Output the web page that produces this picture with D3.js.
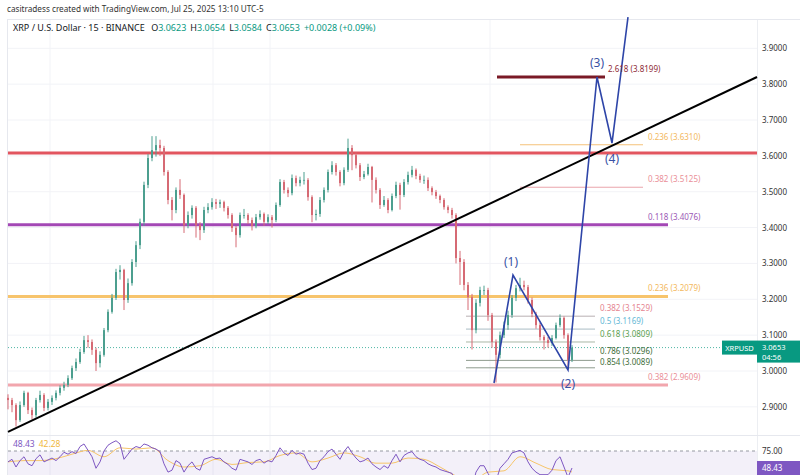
<!DOCTYPE html>
<html>
<head>
<meta charset="utf-8">
<script src="https://cdn.jsdelivr.net/npm/d3@7"></script>
<style>
  body { margin: 0; background: #fff; }
  svg { display: block; font-family: "Noto Sans", sans-serif; }
</style>
</head>
<body>
<div id="chart"></div>
<script>
// Candles (15 min XRP/USD), one entry per candle, open = previous close
const firstOpen = 2.925;
const closes = [
  2.919, 2.905, 2.863, 2.905, 2.939, 2.891, 2.877, 2.919, 2.933, 2.897,
  2.914, 2.925, 2.939, 2.953, 2.961, 2.980, 3.008, 3.025, 3.053, 3.086,
  3.081, 3.059, 3.022, 3.045, 3.114, 3.165, 3.204, 3.276, 3.282, 3.198,
  3.245, 3.304, 3.351, 3.416, 3.519, 3.594, 3.616, 3.630, 3.622, 3.555,
  3.477, 3.449, 3.505, 3.491, 3.407, 3.435, 3.455, 3.407, 3.393, 3.449,
  3.457, 3.471, 3.466, 3.471, 3.455, 3.435, 3.399, 3.379, 3.435, 3.435,
  3.421, 3.404, 3.429, 3.438, 3.416, 3.429, 3.421, 3.463, 3.527, 3.505,
  3.496, 3.538, 3.524, 3.533, 3.533, 3.485, 3.435, 3.438, 3.477, 3.505,
  3.555, 3.574, 3.555, 3.524, 3.561, 3.622, 3.602, 3.574, 3.541, 3.549,
  3.569, 3.533, 3.505, 3.463, 3.477, 3.449, 3.488, 3.519, 3.491, 3.527,
  3.547, 3.561, 3.544, 3.533, 3.533, 3.510, 3.499, 3.488, 3.477, 3.457,
  3.449, 3.435, 3.315, 3.304, 3.240, 3.206, 3.114, 3.190, 3.226, 3.226,
  3.156, 3.081, 3.045, 3.100, 3.128, 3.156, 3.204, 3.231, 3.240, 3.234,
  3.198, 3.159, 3.128, 3.095, 3.086, 3.078, 3.092, 3.128, 3.148, 3.100,
  3.031, 3.0653
];
const highs = [
  2.935, 2.925, 2.910, 2.915, 2.945, 2.942, 2.898, 2.925, 2.945, 2.938,
  2.922, 2.932, 2.946, 2.960, 2.970, 2.988, 3.015, 3.035, 3.062, 3.098,
  3.100, 3.088, 3.065, 3.055, 3.120, 3.172, 3.215, 3.285, 3.295, 3.285,
  3.258, 3.312, 3.362, 3.425, 3.528, 3.605, 3.655, 3.655, 3.645, 3.628,
  3.560, 3.485, 3.512, 3.535, 3.495, 3.445, 3.462, 3.460, 3.415, 3.458,
  3.468, 3.482, 3.480, 3.478, 3.475, 3.460, 3.440, 3.405, 3.442, 3.452,
  3.440, 3.428, 3.438, 3.448, 3.442, 3.437, 3.435, 3.470, 3.535, 3.533,
  3.512, 3.548, 3.545, 3.542, 3.555, 3.538, 3.490, 3.450, 3.485, 3.512,
  3.562, 3.585, 3.580, 3.560, 3.568, 3.648, 3.630, 3.610, 3.580, 3.558,
  3.578, 3.572, 3.540, 3.510, 3.488, 3.482, 3.495, 3.528, 3.525, 3.535,
  3.556, 3.572, 3.565, 3.550, 3.545, 3.540, 3.515, 3.505, 3.492, 3.482,
  3.462, 3.455, 3.440, 3.335, 3.312, 3.248, 3.215, 3.200, 3.235, 3.238,
  3.232, 3.162, 3.088, 3.110, 3.138, 3.168, 3.212, 3.240, 3.260, 3.252,
  3.240, 3.205, 3.165, 3.135, 3.100, 3.095, 3.100, 3.135, 3.158, 3.152,
  3.105, 3.072
];
const lows = [
  2.893, 2.885, 2.845, 2.858, 2.900, 2.880, 2.865, 2.870, 2.912, 2.888,
  2.890, 2.905, 2.918, 2.932, 2.945, 2.955, 2.975, 3.000, 3.020, 3.048,
  3.065, 3.045, 3.000, 3.010, 3.040, 3.108, 3.160, 3.198, 3.255, 3.170,
  3.190, 3.238, 3.290, 3.340, 3.405, 3.510, 3.585, 3.598, 3.600, 3.545,
  3.465, 3.420, 3.440, 3.480, 3.385, 3.398, 3.425, 3.372, 3.365, 3.385,
  3.440, 3.450, 3.452, 3.455, 3.445, 3.425, 3.388, 3.345, 3.372, 3.425,
  3.410, 3.392, 3.398, 3.422, 3.405, 3.410, 3.400, 3.415, 3.458, 3.495,
  3.485, 3.490, 3.515, 3.515, 3.520, 3.475, 3.415, 3.420, 3.430, 3.470,
  3.498, 3.548, 3.545, 3.515, 3.518, 3.555, 3.560, 3.565, 3.530, 3.535,
  3.545, 3.470, 3.495, 3.452, 3.458, 3.440, 3.445, 3.482, 3.450, 3.485,
  3.520, 3.540, 3.535, 3.525, 3.522, 3.502, 3.490, 3.480, 3.468, 3.450,
  3.440, 3.425, 3.300, 3.240, 3.225, 3.170, 3.060, 3.105, 3.180, 3.212,
  3.140, 3.065, 2.968, 3.035, 3.092, 3.115, 3.148, 3.195, 3.222, 3.225,
  3.188, 3.150, 3.118, 3.085, 3.060, 3.065, 3.070, 3.088, 3.122, 3.090,
  3.005, 3.025
];

// RSI pane
const rsi = [
  58, 62, 50, 60, 66, 55, 52, 63, 69, 58,
  61, 64, 60, 66, 73, 70, 74, 71, 82, 86,
  76, 66, 48, 58, 75, 84, 88, 91, 86, 62,
  70, 78, 82, 80, 86, 84, 80, 78, 74, 55,
  42, 45, 60, 56, 42, 52, 58, 48, 45, 62,
  64, 66, 63, 64, 58, 54, 48, 45, 62, 60,
  58, 54, 60, 62, 56, 60, 58, 68, 80, 72,
  68, 76, 70, 72, 70, 56, 46, 48, 60, 66,
  74, 78, 70, 62, 74, 82, 72, 64, 58, 60,
  64, 55, 50, 46, 52, 48, 60, 70, 58, 68,
  72, 74, 66, 62, 60, 55, 52, 50, 46, 44,
  42, 40, 22, 24, 20, 22, 18, 42, 52, 52,
  40, 30, 28, 48, 55, 62, 72, 74, 76, 72,
  58, 48, 42, 38, 38, 38, 45, 60, 66, 50,
  34, 48.43
];
const rsiMaIdx = [0, 4, 8, 12, 16, 20, 24, 28, 32, 36, 40, 44, 48, 52, 56, 60, 64, 68,
  72, 76, 80, 84, 88, 92, 96, 100, 104, 108, 112, 116, 120, 124, 128, 132, 136, 140, 141];
const rsiMa = [58, 60, 60, 63, 70, 76, 66, 80, 78, 80, 60, 50, 52, 62, 54, 57, 58, 68,
  72, 58, 64, 72, 66, 56, 56, 64, 62, 50, 36, 28, 42, 44, 66, 56, 46, 44, 42.28];

// Axis ticks
const priceTicks = [2.9, 3.0, 3.1, 3.2, 3.3, 3.4, 3.5, 3.6, 3.7, 3.8, 3.9];

// Drawings: trend line, Elliott wave, levels
const trendIdx = [0, 187.25];
const trendPrice = [2.830, 3.8199];
const waveIdx = [121.5, 126.25, 140, 147.25, 151, 155];
const wavePrice = [2.9665, 3.2677, 3.0028, 3.82, 3.6358, 3.987];
const waveLabels = ["(1)", "(2)", "(3)", "(4)"];

const zonePrices = [3.608, 3.4076, 3.2079, 2.9609];
const zoneEnd = [187.25, 165, 165, 165];
const fibUpPrices = [3.631, 3.5125];
const fibUpLabels = ["0.236 (3.6310)", "0.382 (3.5125)"];
const fibLowPrices = [3.1529, 3.1169, 3.0809, 3.0296, 3.0089];
const fibLowLabels = ["0.382 (3.1529)", "0.5 (3.1169)", "0.618 (3.0809)", "0.786 (3.0296)", "0.854 (3.0089)"];
const zoneLabels = ["0.118 (3.4076)", "0.236 (3.2079)", "0.382 (2.9609)"];
const targetPrice = 3.8199;
const targetLabel = "2.618 (3.8199)";
const lastPrice = 3.0653;

const W = 800, H = 475;
const svg = d3.select("#chart").append("svg").attr("width", W).attr("height", H);

const x = d3.scaleLinear().domain([0, 141]).range([8, 572]);
const y = d3.scaleLinear().domain([3.0, 3.9]).range([371, 48.3]);
const yR = d3.scaleLinear().domain([0, 100]).range([499, 435]);

// Header
svg.append("text").attr("x", 7).attr("y", 12)
  .attr("font-size", 8.2).attr("fill", "#333")
  .text("casitradess created with TradingView.com, Jul 25, 2025 13:10 UTC-5");

// Pane frame
svg.append("rect").attr("x", 7.5).attr("y", 19.5).attr("width", 800).attr("height", 470)
  .attr("fill", "none").attr("stroke", "#e6e8ee");

// Grid
svg.append("g").selectAll("line").data(priceTicks).join("line")
  .attr("x1", 8).attr("x2", 757)
  .attr("y1", d => y(d)).attr("y2", d => y(d))
  .attr("stroke", "#f2f3f7");
svg.append("g").selectAll("line").data([10.5, 51.25, 65.5, 120.5]).join("line")
  .attr("x1", d => x(d)).attr("x2", d => x(d))
  .attr("y1", 20).attr("y2", 475)
  .attr("stroke", "#f2f3f7");
svg.append("line").attr("x1", 757.5).attr("x2", 757.5).attr("y1", 20).attr("y2", 475)
  .attr("stroke", "#eceef2");
svg.append("line").attr("x1", 8).attr("x2", 800).attr("y1", 435.5).attr("y2", 435.5)
  .attr("stroke", "#e6e8ee");

// Right price axis
const axis = svg.append("g").attr("transform", "translate(757,0)")
  .call(d3.axisRight(y).tickValues(priceTicks).tickSize(0).tickPadding(5).tickFormat(d3.format(".4f")));
axis.select(".domain").remove();
axis.selectAll("text").attr("font-size", 8).attr("fill", "#333").attr("font-family", "Noto Sans");

// Horizontal zones
const zoneColor = ["#e2555f", "#a348b5", "#f7c46c", "#f2a6ad"];
svg.append("g").selectAll("line").data(zonePrices).join("line")
  .attr("x1", x(0)).attr("x2", (d, i) => x(zoneEnd[i]))
  .attr("y1", d => y(d)).attr("y2", d => y(d))
  .attr("stroke", (d, i) => zoneColor[i]).attr("stroke-width", 3);

// Current price dotted line
svg.append("line").attr("x1", 8).attr("x2", 757)
  .attr("y1", y(lastPrice)).attr("y2", y(lastPrice))
  .attr("stroke", "#089981").attr("stroke-dasharray", "1,2").attr("opacity", 0.7);

// Fib lines
const fibUpColor = ["#f5c27a", "#eaa5ab"];
svg.append("g").selectAll("line").data(fibUpPrices).join("line")
  .attr("x1", x(128)).attr("x2", x(158.75))
  .attr("y1", d => y(d)).attr("y2", d => y(d))
  .attr("stroke", (d, i) => fibUpColor[i]).attr("stroke-width", 1);
const fibLowLine = ["#b8b0b2", "#a9bcc4", "#a9b7a6", "#8e9a8c", "#8e9a8c"];
const fibLowText = ["#e5858f", "#63b8d6", "#5b9f4f", "#3e6e3a", "#3e6e3a"];
svg.append("g").selectAll("line").data(fibLowPrices).join("line")
  .attr("x1", x(114.5)).attr("x2", x(146.75))
  .attr("y1", d => y(d)).attr("y2", d => y(d))
  .attr("stroke", (d, i) => fibLowLine[i]).attr("stroke-width", 1);

// Target line
svg.append("line").attr("x1", x(122.25)).attr("x2", x(149.25))
  .attr("y1", y(targetPrice)).attr("y2", y(targetPrice))
  .attr("stroke", "#7a1a26").attr("stroke-width", 3);

// Candles
const up = "#4c9f8f", down = "#d66a74";
const candles = closes.map((c, i) => ({
  i, o: i === 0 ? firstOpen : closes[i - 1], h: highs[i], l: lows[i], c
}));
const cg = svg.append("g");
cg.selectAll("line").data(candles).join("line")
  .attr("x1", d => x(d.i)).attr("x2", d => x(d.i))
  .attr("y1", d => y(d.h)).attr("y2", d => y(d.l))
  .attr("stroke", d => d.c >= d.o ? up : down).attr("stroke-width", 1);
cg.selectAll("rect").data(candles).join("rect")
  .attr("x", d => x(d.i) - 1).attr("width", 2)
  .attr("y", d => y(Math.max(d.o, d.c)))
  .attr("height", d => Math.max(0.8, Math.abs(y(d.o) - y(d.c))))
  .attr("fill", d => d.c >= d.o ? up : down);

// Trend line
svg.append("line")
  .attr("x1", x(trendIdx[0])).attr("y1", y(trendPrice[0]))
  .attr("x2", x(trendIdx[1])).attr("y2", y(trendPrice[1]))
  .attr("stroke", "#000").attr("stroke-width", 2);

// Elliott wave
const wave = waveIdx.map((d, i) => [x(d), y(wavePrice[i])]);
svg.append("path").attr("d", d3.line()(wave))
  .attr("fill", "none").attr("stroke", "#2e45a8").attr("stroke-width", 1.6);
const labelDy = [-9, 18, -10, 20];
svg.append("g").selectAll("text").data(waveLabels).join("text")
  .attr("x", (d, i) => wave[i + 1][0] - (i === 0 ? 2 : 0))
  .attr("y", (d, i) => wave[i + 1][1] + labelDy[i])
  .attr("text-anchor", "middle").attr("font-size", 12).attr("fill", "#3a52a5")
  .text(d => d);

// Level labels
const lbl = svg.append("g").attr("font-size", 8);
lbl.append("text").attr("x", x(150)).attr("y", y(targetPrice) - 5)
  .attr("fill", "#8e2a36").text(targetLabel);
lbl.selectAll(".fu").data(fibUpLabels).join("text").attr("class", "fu")
  .attr("x", x(160)).attr("y", (d, i) => y(fibUpPrices[i]) - 5)
  .attr("fill", (d, i) => ["#f3b960", "#ea8f98"][i]).text(d => d);
lbl.selectAll(".zl").data(zoneLabels).join("text").attr("class", "zl")
  .attr("x", x(160)).attr("y", (d, i) => y(zonePrices[i + 1]) - 5)
  .attr("fill", (d, i) => ["#9b59b6", "#f3b960", "#ea8f98"][i]).text(d => d);
const fibDy = [-5, -5, -5, -6, -3];
lbl.selectAll(".fl").data(fibLowLabels).join("text").attr("class", "fl")
  .attr("x", x(148)).attr("y", (d, i) => y(fibLowPrices[i]) + fibDy[i])
  .attr("fill", (d, i) => fibLowText[i]).text(d => d);

// Legend row
const leg = svg.append("text").attr("x", 13).attr("y", 31).attr("font-size", 9).attr("fill", "#131722");
leg.append("tspan").text("XRP / U.S. Dollar · 15 · BINANCE ");
[["O", "3.0623"], ["H", "3.0654"], ["L", "3.0584"], ["C", "3.0653"]].forEach(([k, v]) => {
  leg.append("tspan").attr("dx", 4).text(k);
  leg.append("tspan").attr("fill", "#089981").text(v);
});
leg.append("tspan").attr("dx", 4).attr("fill", "#089981").text("+0.0028 (+0.09%)");

// Last price tags
const yl = y(lastPrice);
svg.append("rect").attr("x", 722).attr("y", yl - 7).attr("width", 35).attr("height", 14).attr("fill", "#089981");
svg.append("text").attr("x", 739.5).attr("y", yl + 3).attr("text-anchor", "middle")
  .attr("font-size", 7.5).attr("fill", "#fff").text("XRPUSD");
svg.append("rect").attr("x", 757).attr("y", yl - 7).attr("width", 43).attr("height", 22).attr("fill", "#089981");
svg.append("text").attr("x", 762).attr("y", yl + 2).attr("font-size", 7.5).attr("fill", "#fff").text("3.0653");
svg.append("text").attr("x", 762).attr("y", yl + 12).attr("font-size", 7.5).attr("fill", "#fff").text("04:56");

// RSI pane
svg.append("clipPath").attr("id", "rsiClip").append("rect")
  .attr("x", 8).attr("y", 436).attr("width", 749).attr("height", 39);
const rp = svg.append("g").attr("clip-path", "url(#rsiClip)");
rp.append("rect").attr("x", 8).attr("width", 749).attr("y", yR(75)).attr("height", yR(25) - yR(75))
  .attr("fill", "#7e57c2").attr("opacity", 0.09);
rp.append("line").attr("x1", 8).attr("x2", 757).attr("y1", yR(75)).attr("y2", yR(75))
  .attr("stroke", "#9598a1").attr("stroke-dasharray", "3,3");
rp.append("path").attr("d", d3.line().x((d, i) => x(rsiMaIdx[i])).y(d => yR(d)).curve(d3.curveMonotoneX)(rsiMa))
  .attr("fill", "none").attr("stroke", "#f7c56a").attr("stroke-width", 1);
rp.append("path").attr("d", d3.line().x((d, i) => x(i)).y(d => yR(d))(rsi))
  .attr("fill", "none").attr("stroke", "#7e57c2").attr("stroke-width", 1);

const rl = svg.append("text").attr("x", 13).attr("y", 447).attr("font-size", 8.5);
rl.append("tspan").attr("fill", "#7e57c2").text("48.43");
rl.append("tspan").attr("dx", 4).attr("fill", "#f0b840").text("42.28");

svg.append("text").attr("x", 762).attr("y", yR(75) + 3).attr("font-size", 8).attr("fill", "#333").text("75.00");
svg.append("rect").attr("x", 757).attr("y", yR(48.43) - 7).attr("width", 43).attr("height", 14).attr("fill", "#7e57c2");
svg.append("text").attr("x", 762).attr("y", yR(48.43) + 3).attr("font-size", 8).attr("fill", "#fff").text("48.43");
</script>
</body>
</html>
